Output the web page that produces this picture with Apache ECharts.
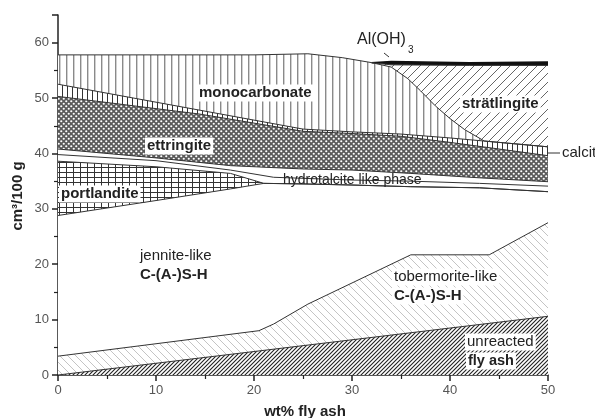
<!DOCTYPE html>
<html><head><meta charset="utf-8">
<script src="https://cdn.jsdelivr.net/npm/echarts@6/dist/echarts.min.js"></script>
<style>html,body{margin:0;padding:0;background:#fff}#c{width:595px;height:418px}</style>
</head><body><div id="c"></div>
<script>
// Axis ticks
const xTicks = [0, 10, 20, 30, 40, 50];
const yTicks = [0, 10, 20, 30, 40, 50, 60];
// Cumulative upper boundaries of each phase, [wt% fly ash, cm3/100 g]
const flyAshTop = [[0,0],[50,10.6]];
const tobermoriteTop = [[0,3.4],[20.5,8.0],[22,9.2],[25.5,12.8],[36,21.7],[44,21.7],[50,27.5]];
const jenniteTop = [[0,28.8],[10,31.5],[17.6,33.6],[21,34.6],[25,34.5],[30,34.3],[36,34.0],[43,33.8],[50,33.1]];
const portlanditeTop = [[0,38.6],[10,37.6],[17.6,36.4],[21,34.6],[25,34.5],[30,34.3],[36,34.0],[43,33.8],[50,33.1]];
const lowerWhiteTop = [[0,39.8],[10,38.7],[17.6,37.0],[22,35.7],[30,35.2],[36,35.0],[43,34.6],[50,34.1]];
const hydrotalciteTop = [[0,40.8],[10,39.2],[17.6,37.8],[25,37.2],[30,37.0],[36,36.4],[43,35.6],[50,34.9]];
const ettringiteTop = [[0,50.3],[14.5,47.1],[25,44.0],[30,43.6],[35,43.1],[40,42.0],[45,40.8],[50,39.6]];
const calciteTop = [[0,52.5],[14.5,47.8],[25,44.4],[30,43.9],[35,43.5],[40,42.8],[45,42.0],[50,41.2]];
const monocarbonateTop = [[0,57.8],[20,57.8],[25.5,58.0],[29,57.3],[32,56.4],[34,55.6],[35.7,53.5],[37,51.3],[38.5,48.6],[40,46.3],[41.5,44.3],[43.5,42.25],[45,42.0],[50,41.2]];
const stratlingiteTop = [[32,56.4],[34,56.0],[42,55.9],[50,55.9]];
const alohTop = [[32,56.4],[34,56.6],[42,56.4],[50,56.5]];

function pat(w, h, draw) {
  const c = document.createElement('canvas'); c.width = w; c.height = h;
  const g = c.getContext('2d'); g.fillStyle = '#fff'; g.fillRect(0, 0, w, h);
  draw(g, w, h); return { image: c, repeat: 'repeat' };
}
function diag(s, color, lw, dir) {
  return pat(s, s, g => {
    g.strokeStyle = color; g.lineWidth = lw; g.beginPath();
    if (dir > 0) {
      g.moveTo(0, s); g.lineTo(s, 0);
      g.moveTo(-s/2, s/2); g.lineTo(s/2, -s/2);
      g.moveTo(s/2, s*1.5); g.lineTo(s*1.5, s/2);
    } else {
      g.moveTo(0, 0); g.lineTo(s, s);
      g.moveTo(-s/2, s/2); g.lineTo(s/2, s*1.5);
      g.moveTo(s/2, -s/2); g.lineTo(s*1.5, s/2);
    }
    g.stroke();
  });
}
const fills = {
  white: '#fff',
  black: '#111',
  strat: diag(9, '#666', 1, 1),
  mono: pat(7, 1, g => { g.fillStyle = '#8a8a8a'; g.fillRect(3, 0, 1.4, 1); }),
  calc: pat(5, 1, g => { g.fillStyle = '#333'; g.fillRect(2, 0, 1, 1); }),
  ett: pat(5, 5, g => { g.fillStyle = '#5a5a5a'; g.fillRect(0, 0, 5, 5);
    g.fillStyle = '#fff'; g.beginPath(); g.arc(1.25, 1.25, 1.1, 0, 7); g.arc(3.75, 3.75, 1.1, 0, 7); g.fill(); }),
  port: pat(7, 5, g => { g.fillStyle = '#333'; g.fillRect(3, 0, 1, 5); g.fillRect(0, 2, 7, 1); }),
  tob: diag(8, '#c4c4c4', 1, -1),
  fly: diag(4, '#222', 1.1, 1)
};
function band(name, data, fill, lw, lc) {
  return { name, type: 'line', data, symbol: 'none', showSymbol: false, silent: true,
    lineStyle: { color: lc || '#333', width: lw || 1 },
    areaStyle: { color: fill, opacity: 1, origin: 'start' } };
}
const series = [
  band('Al(OH)3', alohTop, fills.black, 1.5, '#111'),
  band('strätlingite', stratlingiteTop, fills.strat),
  band('monocarbonate', monocarbonateTop, fills.mono),
  band('calcite', calciteTop, fills.calc),
  band('ettringite', ettringiteTop, fills.ett),
  band('hydrotalcite', hydrotalciteTop, fills.white),
  band('lower band', lowerWhiteTop, fills.white),
  band('portlandite', portlanditeTop, fills.port),
  band('jennite', jenniteTop, fills.white),
  band('tobermorite', tobermoriteTop, fills.tob),
  band('fly ash', flyAshTop, fills.fly)
];
const F = "'Liberation Sans', Arial, Helvetica, sans-serif";
function txt(text, x, y, size, bold, bg) {
  return { type: 'text', x, y, z: 100, silent: true,
    style: { text, fill: '#222', font: (bold ? 'bold ' : '') + size + 'px ' + F,
      align: 'left', verticalAlign: 'middle',
      backgroundColor: bg ? '#fff' : undefined, padding: bg ? [1, 2] : 0 } };
}
const axisCommon = {
  axisLine: { show: true, onZero: false, lineStyle: { color: '#222', width: 1.5 } },
  axisTick: { show: true, inside: false, length: 6, lineStyle: { color: '#222', width: 1.5 } },
  minorTick: { show: true, splitNumber: 2, length: 4, lineStyle: { color: '#222', width: 1.2 } },
  splitLine: { show: false }
};
const chart = echarts.init(document.getElementById('c'));
chart.setOption({
  animation: false,
  backgroundColor: '#fff',
  grid: { left: 58, right: 47, top: 15, bottom: 43 },
  xAxis: Object.assign({
    type: 'value', min: xTicks[0], max: xTicks[xTicks.length - 1], interval: 10,
    axisLabel: { color: '#555', fontSize: 13, fontFamily: F, margin: 9,
      formatter: v => xTicks.includes(v) ? String(v) : '' }
  }, axisCommon),
  yAxis: Object.assign({
    type: 'value', min: 0, max: 65, interval: 10,
    axisLabel: { color: '#555', fontSize: 13, fontFamily: F, margin: 9, showMaxLabel: false,
      formatter: v => yTicks.includes(v) ? String(v) : '' }
  }, axisCommon),
  series,
  graphic: [
    txt('monocarbonate', 197, 93, 15, true, true),
    txt('strätlingite', 460, 104, 15, true, true),
    txt('ettringite', 145, 146, 15, true, true),
    txt('portlandite', 59, 194, 15, true, true),
    txt('hydrotalcite like phase', 283, 180, 14, false, false),
    txt('jennite-like', 140, 256, 15, false, false),
    txt('C-(A-)S-H', 140, 275, 15, true, false),
    txt('tobermorite-like', 392, 277, 15, false, true),
    txt('C-(A-)S-H', 392, 296, 15, true, true),
    txt('unreacted', 465, 342, 15, false, true),
    txt('fly ash', 466, 361, 14.5, true, true),
    txt('Al(OH)', 357, 40, 16, false, false),
    txt('3', 408, 50, 10, false, false),
    txt('calcite', 562, 153, 15, false, false),
    { type: 'line', z: 100, silent: true, shape: { x1: 548, y1: 153, x2: 560, y2: 153 }, style: { stroke: '#333', lineWidth: 1 } },
    { type: 'line', z: 100, silent: true, shape: { x1: 384, y1: 53, x2: 389, y2: 57 }, style: { stroke: '#333', lineWidth: 1 } },
    { type: 'text', z: 100, silent: true, x: 18, y: 196, rotation: Math.PI / 2,
      style: { text: 'cm³/100 g', fill: '#222', font: 'bold 15px ' + F, align: 'center', verticalAlign: 'middle' } },
    { type: 'text', z: 100, silent: true, x: 305, y: 412,
      style: { text: 'wt% fly ash', fill: '#222', font: 'bold 15px ' + F, align: 'center', verticalAlign: 'middle' } }
  ]
});
</script></body></html>
